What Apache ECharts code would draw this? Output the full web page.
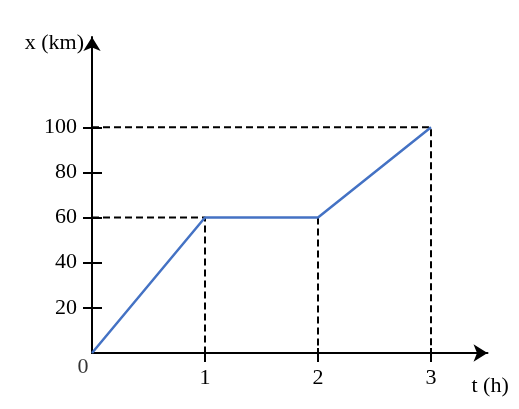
<!DOCTYPE html>
<html>
<head>
<meta charset="utf-8">
<script src="https://cdn.jsdelivr.net/npm/echarts@6/dist/echarts.min.js"></script>
<style>
  html, body { margin: 0; padding: 0; background: #fff; }
  #chart { width: 519px; height: 409px; }
</style>
</head>
<body>
<div id="chart"></div>
<script>
// data
const times = [0, 1, 2, 3]
const positions = [0, 60, 60, 100]
const xTicks = [1, 2, 3]
const yTicks = [20, 40, 60, 80, 100]
const yLabels = [20, 40, 60, 80, 100]
// dashed guide lines, as [t, x] points
const guide100 = [[0, 100], [3, 100], [3, 0]]
const guide60 = [[0, 60], [1, 60], [1, 0]]
const guide2h = [[2, 60], [2, 0]]
const origin = [[0, 0]]

const font = 'Liberation Serif'
const txt = { color: '#000', fontFamily: font, fontSize: 22 }

const chart = echarts.init(document.getElementById('chart'))

const dashed = (data) => ({
  type: 'line',
  data,
  symbol: 'none',
  silent: true,
  lineStyle: { color: '#000', width: 2, type: [7, 4] },
  z: 1,
})

chart.setOption({
  animation: false,
  grid: { left: 92, top: 37, width: 395.5, height: 316 },
  xAxis: [
    {
      type: 'value',
      min: 0,
      max: 3.5,
      name: 't (h)',
      nameLocation: 'end',
      nameGap: -16,
      nameTextStyle: { ...txt, align: 'left', verticalAlign: 'top', padding: [22, 0, 0, 0] },
      axisLine: {
        lineStyle: { color: '#000', width: 2 },
        symbol: ['none', 'arrow'],
        symbolSize: [13, 14],
      },
      axisTick: { show: true, length: 9, lineStyle: { color: '#000', width: 2 }, customValues: xTicks },
      axisLabel: { ...txt, margin: 14, customValues: xTicks },
      splitLine: { show: false },
    },
    {
      // inner half of the crossing ticks
      type: 'value',
      min: 0,
      max: 3.5,
      position: 'bottom',
      axisLine: { show: false },
      axisTick: { show: true, inside: true, length: 5, lineStyle: { color: '#000', width: 2 }, customValues: xTicks },
      axisLabel: { show: false },
      splitLine: { show: false },
    },
  ],
  yAxis: [
    {
      type: 'value',
      min: 0,
      max: 140,
      name: 'x (km)',
      nameLocation: 'end',
      nameGap: -6,
      nameTextStyle: { ...txt, align: 'right', verticalAlign: 'middle', padding: [0, 8, 0, 0] },
      axisLine: {
        lineStyle: { color: '#000', width: 2 },
        symbol: ['none', 'arrow'],
        symbolSize: [13, 14],
      },
      axisTick: { show: true, length: 9, lineStyle: { color: '#000', width: 2 }, customValues: yTicks },
      axisLabel: { ...txt, margin: 15, customValues: yLabels },
      splitLine: { show: false },
    },
    {
      type: 'value',
      min: 0,
      max: 140,
      position: 'left',
      axisLine: { show: false },
      axisTick: { show: true, inside: true, length: 10, lineStyle: { color: '#000', width: 2 }, customValues: yTicks },
      axisLabel: { show: false },
      splitLine: { show: false },
    },
  ],
  series: [
    dashed(guide100),
    dashed(guide60),
    dashed(guide2h),
    {
      type: 'line',
      data: times.map((t, i) => [t, positions[i]]),
      symbol: 'none',
      lineStyle: { color: '#4472C4', width: 2.5 },
      z: 3,
    },
    {
      type: 'scatter',
      data: origin,
      symbolSize: 0,
      silent: true,
      label: {
        show: true,
        ...txt,
        position: [-9, 14],
        align: 'center',
        verticalAlign: 'middle',
        formatter: () => '0',
      },
    },
  ],
})
</script>
</body>
</html>
